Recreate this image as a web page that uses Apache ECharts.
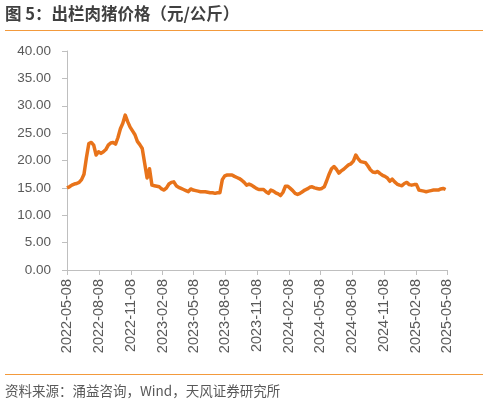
<!DOCTYPE html>
<html>
<head>
	<meta charset="UTF-8" />
	<title>出栏肉猪价格</title>
	<style>
		html, body { margin: 0; padding: 0; background: #fff; }
		#chart { width: 488px; height: 404px; }
	</style>
</head>
<body>
	<div id="chart"></div>
	<script type="text/javascript" src="https://cdn.jsdelivr.net/npm/echarts@6.0.0/dist/echarts.min.js"></script>
	<script type="text/javascript">
		// 周度数据，首周 2022-05-08
		const startDate = '2022-05-08';
		const prices = [
			15.0, 15.2, 15.5, 15.7, 15.8, 16.0, 16.5, 17.5, 20.5, 23.1,
			23.3, 22.8, 21.0, 21.6, 21.3, 21.6, 22.0, 22.8, 23.2, 23.3,
			23.0, 24.2, 25.8, 26.8, 28.3, 27.1, 26.1, 25.4, 24.7, 23.5,
			22.9, 22.2, 19.5, 16.8, 18.5, 15.5, 15.4, 15.3, 15.2, 14.8,
			14.6, 15.0, 15.7, 16.0, 16.1, 15.4, 15.1, 14.9, 14.7, 14.5,
			14.3, 14.8, 14.6, 14.5, 14.4, 14.3, 14.3, 14.3, 14.2, 14.1,
			14.1, 14.0, 14.1, 14.1, 16.5, 17.2, 17.35, 17.35, 17.35, 17.1,
			16.9, 16.7, 16.4, 16.0, 15.5, 15.7, 15.5, 15.2, 14.9, 14.7,
			14.7, 14.7, 14.3, 14.0, 14.6, 14.4, 14.1, 13.9, 13.6, 14.2,
			15.3, 15.3, 14.9, 14.5, 14.0, 13.8, 14.0, 14.3, 14.6, 14.8,
			15.1, 15.2, 15.0, 14.9, 14.8, 14.9, 15.2, 16.3, 17.5, 18.5,
			18.9, 18.4, 17.7, 18.1, 18.4, 18.8, 19.2, 19.4, 19.9, 21.0,
			20.3, 19.8, 19.7, 19.6, 19.0, 18.3, 17.9, 17.8, 18.0, 17.6,
			17.3, 17.1, 16.8, 16.2, 16.6, 16.1, 15.7, 15.5, 15.4, 15.8,
			16.0, 15.6, 15.5, 15.6, 15.6, 14.6, 14.5, 14.4, 14.3, 14.4,
			14.5, 14.6, 14.6, 14.6, 14.8, 14.9, 14.7
		];
		const xTicks = [
			'2022-05-08', '2022-08-08', '2022-11-08', '2023-02-08', '2023-05-08',
			'2023-08-08', '2023-11-08', '2024-02-08', '2024-05-08', '2024-08-08',
			'2024-11-08', '2025-02-08', '2025-05-08'
		];
		const yTicks = [0, 5, 10, 15, 20, 25, 30, 35, 40];

		// 以天为单位（UTC），避免时区影响
		const DAY = 24 * 3600 * 1000;
		function toDay(s) {
			return Date.parse(s + 'T00:00:00Z') / DAY;
		}
		function dayLabel(d) {
			return new Date(Math.round(d) * DAY).toISOString().slice(0, 10);
		}
		const d0 = toDay(startDate);
		const seriesData = prices.map((v, i) => [d0 + i * 7, v]);
		const tickDays = xTicks.map(toDay);

		const chart = echarts.init(document.getElementById('chart'));
		chart.setOption({
			animation: false,
			backgroundColor: '#fff',
			graphic: [
				{
					type: 'text', left: 5, top: 5,
					style: {
						text: '图 5：出栏肉猪价格（元/公斤）',
						fontSize: 16.5, fontWeight: 'bold',
						fontFamily: 'Noto Sans CJK SC', fill: '#404040'
					}
				},
				{
					type: 'line', shape: { x1: 5, y1: 30.5, x2: 483, y2: 30.5 },
					style: { stroke: '#F39A3C', lineWidth: 1.2 }
				},
				{
					type: 'line', shape: { x1: 5, y1: 374.5, x2: 483, y2: 374.5 },
					style: { stroke: '#F39A3C', lineWidth: 1.2 }
				},
				{
					type: 'text', left: 5, top: 384,
					style: {
						text: '资料来源：涌益咨询，Wind，天风证券研究所',
						fontSize: 13.5, fontFamily: 'Noto Sans CJK SC', fill: '#595959'
					}
				}
			],
			grid: { left: 67, right: 41, top: 51, bottom: 134, containLabel: false },
			xAxis: {
				type: 'value',
				min: tickDays[0],
				max: tickDays[tickDays.length - 1],
				axisLine: { onZero: false, lineStyle: { color: '#BFBFBF', width: 1 } },
				axisTick: { show: true, length: 5, customValues: tickDays, lineStyle: { color: '#BFBFBF' } },
				splitLine: { show: false },
				axisLabel: {
					customValues: tickDays,
					rotate: 90,
					margin: 9,
					color: '#595959',
					fontSize: 14.5,
					fontFamily: 'Liberation Sans',
					formatter: dayLabel
				}
			},
			yAxis: {
				type: 'value',
				min: yTicks[0],
				max: yTicks[yTicks.length - 1],
				interval: 5,
				axisLine: { show: true, lineStyle: { color: '#BFBFBF', width: 1 } },
				axisTick: { show: true, length: 5, lineStyle: { color: '#BFBFBF' } },
				splitLine: { show: false },
				axisLabel: {
					margin: 16,
					color: '#595959',
					fontSize: 13.5,
					fontFamily: 'Liberation Sans',
					formatter: v => v.toFixed(2)
				}
			},
			series: [{
				type: 'line',
				data: seriesData,
				showSymbol: false,
				symbol: 'none',
				lineStyle: { color: '#E8731A', width: 3.5, join: 'round' }
			}]
		});
	</script>
</body>
</html>
